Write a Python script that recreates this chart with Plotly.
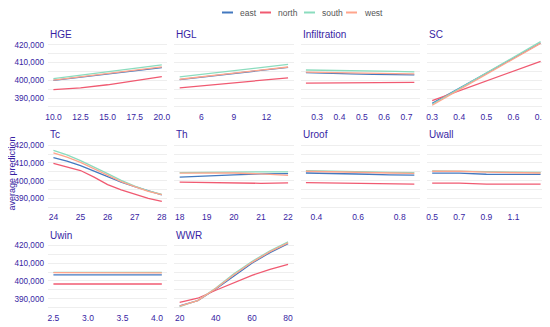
import plotly.graph_objects as go
from plotly.subplots import make_subplots

# ---------------- data ----------------
series = ["east", "north", "south", "west"]
colors = ["#4378bf", "#f05a71", "#8bdcbe", "#ffa58c"]
variables = ["HGE", "HGL", "Infiltration", "SC", "Tc", "Th", "Uroof", "Uwall", "Uwin", "WWR"]

HGE_x = [10, 12.5, 15, 17.5, 20]
HGE = {"east": [400.0, 401.8, 403.7, 405.5, 407.1],
       "north": [394.8, 395.8, 397.5, 399.8, 402.1],
       "south": [401.0, 402.9, 404.9, 406.9, 408.7],
       "west": [400.1, 401.9, 403.9, 405.8, 407.6]}
HGE_ticks = [10, 12.5, 15, 17.5, 20]

HGL_x = [4, 6.5, 9, 11.5, 14]
HGL = {"east": [400.4, 402.1, 403.9, 405.6, 407.3],
       "north": [395.8, 397.2, 398.6, 400.0, 401.4],
       "south": [401.9, 403.7, 405.5, 407.3, 409.0],
       "west": [400.6, 402.3, 404.1, 405.8, 407.5]}
HGL_ticks = [6, 9, 12]

Infiltration_x = [0.25, 0.35, 0.45, 0.55, 0.65, 0.735]
Infiltration = {"east": [404.3, 403.8, 403.6, 403.3, 403.2, 403.1],
                "north": [398.4, 398.4, 398.5, 398.8, 398.8, 398.8],
                "south": [405.8, 405.7, 405.6, 405.3, 405.0, 404.8],
                "west": [404.6, 404.5, 404.3, 404.0, 403.8, 403.6]}
Infiltration_ticks = [0.3, 0.4, 0.5, 0.6, 0.7]

SC_x = [0.3, 0.4, 0.5, 0.6, 0.7]
SC = {"east": [387.0, 395.5, 404.0, 412.5, 421.0],
      "north": [388.6, 394.1, 399.6, 405.2, 410.7],
      "south": [386.5, 395.3, 404.1, 413.0, 421.8],
      "west": [386.0, 394.7, 403.4, 412.1, 420.8]}
SC_ticks = [0.3, 0.4, 0.5, 0.6, 0.7]

Tc_x = [24, 24.5, 25, 25.5, 26, 26.5, 27, 27.5, 28]
Tc = {"east": [413.0, 411.0, 408.5, 405.4, 402.3, 399.2, 396.6, 394.3, 392.0],
      "north": [409.8, 407.8, 405.7, 402.0, 397.8, 394.8, 392.3, 390.0, 388.3],
      "south": [417.0, 414.5, 411.3, 407.8, 404.0, 400.2, 397.0, 394.3, 392.3],
      "west": [415.7, 413.3, 410.3, 406.8, 403.0, 399.5, 396.6, 394.0, 392.1]}
Tc_ticks = [24, 25, 26, 27, 28]

Th_x = [18, 19, 20, 21, 22]
Th = {"east": [402.0, 402.8, 403.3, 403.8, 404.0],
      "north": [399.2, 398.9, 398.6, 398.5, 398.7],
      "south": [404.5, 404.8, 405.0, 405.0, 405.0],
      "west": [404.2, 404.3, 404.3, 403.8, 403.0]}
Th_ticks = [18, 19, 20, 21, 22]

Uroof_x = [0.35, 0.45, 0.55, 0.65, 0.75, 0.87]
Uroof = {"east": [404.3, 404.2, 403.8, 403.6, 403.3, 403.1],
         "north": [398.9, 398.8, 398.4, 398.3, 398.2, 398.1],
         "south": [405.6, 405.5, 405.2, 405.0, 404.7, 404.5],
         "west": [405.3, 405.2, 404.8, 404.6, 404.3, 404.1]}
Uroof_ticks = [0.4, 0.6, 0.8]

Uwall_x = [0.5, 0.7, 0.9, 1.1, 1.3]
Uwall = {"east": [404.2, 404.2, 403.6, 403.5, 403.5],
         "north": [398.6, 398.6, 398.1, 398.0, 398.0],
         "south": [405.5, 405.5, 405.1, 404.8, 404.6],
         "west": [405.3, 405.3, 404.8, 404.5, 404.3]}
Uwall_ticks = [0.5, 0.7, 0.9, 1.1]

Uwin_x = [2.5, 3.0, 3.5, 4.07]
Uwin = {"east": [403.4, 403.4, 403.4, 403.5],
        "north": [398.3, 398.3, 398.3, 398.3],
        "south": [404.9, 404.9, 404.9, 404.9],
        "west": [404.7, 404.7, 404.7, 404.6]}
Uwin_ticks = [2.5, 3.0, 3.5, 4.0]

WWR_x = [20, 30, 40, 50, 60, 70, 80]
WWR = {"east": [386.0, 389.0, 395.5, 403.0, 410.0, 416.0, 421.0],
       "north": [388.0, 390.3, 394.8, 399.2, 403.2, 406.5, 409.3],
       "south": [385.5, 389.0, 396.0, 404.0, 411.0, 417.0, 422.0],
       "west": [385.8, 389.0, 395.8, 403.5, 410.5, 416.5, 421.5]}
WWR_ticks = [20, 40, 60, 80]

y_ticks = [390000, 400000, 410000, 420000]

panels = [
    ("HGE", HGE_x, HGE, HGE_ticks, ".1f"),
    ("HGL", HGL_x, HGL, HGL_ticks, "d"),
    ("Infiltration", Infiltration_x, Infiltration, Infiltration_ticks, ".1f"),
    ("SC", SC_x, SC, SC_ticks, ".1f"),
    ("Tc", Tc_x, Tc, Tc_ticks, "d"),
    ("Th", Th_x, Th, Th_ticks, "d"),
    ("Uroof", Uroof_x, Uroof, Uroof_ticks, ".1f"),
    ("Uwall", Uwall_x, Uwall, Uwall_ticks, ".1f"),
    ("Uwin", Uwin_x, Uwin, Uwin_ticks, ".1f"),
    ("WWR", WWR_x, WWR, WWR_ticks, "d"),
]

# ---------------- figure ----------------
# the page body has an 8px margin, so the figure is laid out 8px smaller
OFF = 8
W, H = 550 - OFF, 327 - OFF
ML, MR, MT, MB = 48 - OFF, 4, 38 - OFF, 17
PW, PH = W - ML - MR, H - MT - MB

TXT = "#371ea3"
FONT = "Liberation Sans, Arial, sans-serif"
GRID = "#eeeeee"

fig = make_subplots(rows=3, cols=4,
                    horizontal_spacing=7 / PW,
                    vertical_spacing=29 / PH)

all_vals = [v for _, _, d, _, _ in panels for s in series for v in d[s]]
ymin, ymax = min(all_vals) * 1000, max(all_vals) * 1000
ypad = (ymax - ymin) * 0.05
yrange = [ymin - ypad, ymax + ypad]

for i, (name, xs, d, ticks, fmt) in enumerate(panels):
    r, c = i // 4 + 1, i % 4 + 1
    for s, col in zip(series, colors):
        fig.add_trace(go.Scatter(x=xs, y=[v * 1000 for v in d[s]], mode="lines",
                                 line=dict(color=col, width=1.3), name=s,
                                 showlegend=False), row=r, col=c)
    xpad = (max(xs) - min(xs)) * 0.05
    fig.update_xaxes(range=[min(xs) - xpad, max(xs) + xpad], tickvals=ticks,
                     tickformat=fmt, showgrid=False, zeroline=False,
                     ticks="", automargin=False, ticklabelstandoff=1,
                     tickfont=dict(size=8.5, color=TXT, family=FONT),
                     row=r, col=c)
    fig.update_yaxes(range=yrange, tickvals=y_ticks, tickformat=",d",
                     showticklabels=(c == 1), showgrid=True, gridcolor=GRID,
                     gridwidth=1, zeroline=False,
                     minor=dict(dtick=5000, tick0=0, showgrid=True, gridcolor=GRID, gridwidth=1),
                     ticks="", automargin=False, ticklabelstandoff=3,
                     tickfont=dict(size=8.2, color=TXT, family=FONT),
                     row=r, col=c)
    n = "" if i == 0 else str(i + 1)
    fig.add_annotation(text=name, xref=f"x{n} domain", yref=f"y{n} domain",
                       x=0, y=1, xanchor="left", yanchor="bottom", yshift=-4,
                       showarrow=False, font=dict(size=10, color=TXT, family=FONT))

# y-axis title
fig.add_annotation(text="average prediction", xref="paper", yref="paper",
                   x=(3.5 - ML) / PW, y=0.5, textangle=-90, showarrow=False,
                   xanchor="center", yanchor="middle", borderpad=0,
                   font=dict(size=9, color=TXT, family=FONT))

# legend (manual, top centre)
leg_line_px = [222 - OFF, 260 - OFF, 304 - OFF, 346 - OFF]
ly = (H - MB - 4.5) / PH
for s, col, lx in zip(series, colors, leg_line_px):
    fig.add_shape(type="line", xref="paper", yref="paper",
                  x0=(lx - ML) / PW, x1=(lx + 11 - ML) / PW, y0=ly, y1=ly,
                  line=dict(color=col, width=2))
    fig.add_annotation(text=s, xref="paper", yref="paper",
                       x=(lx + 16 - ML) / PW, y=ly, xanchor="left", yanchor="middle",
                       showarrow=False, font=dict(size=8.5, color="#555555", family=FONT))

fig.update_layout(width=W, height=H, margin=dict(l=ML, r=MR, t=MT, b=MB),
                  plot_bgcolor="white", paper_bgcolor="white", showlegend=False)

fig.write_html("out.html")
